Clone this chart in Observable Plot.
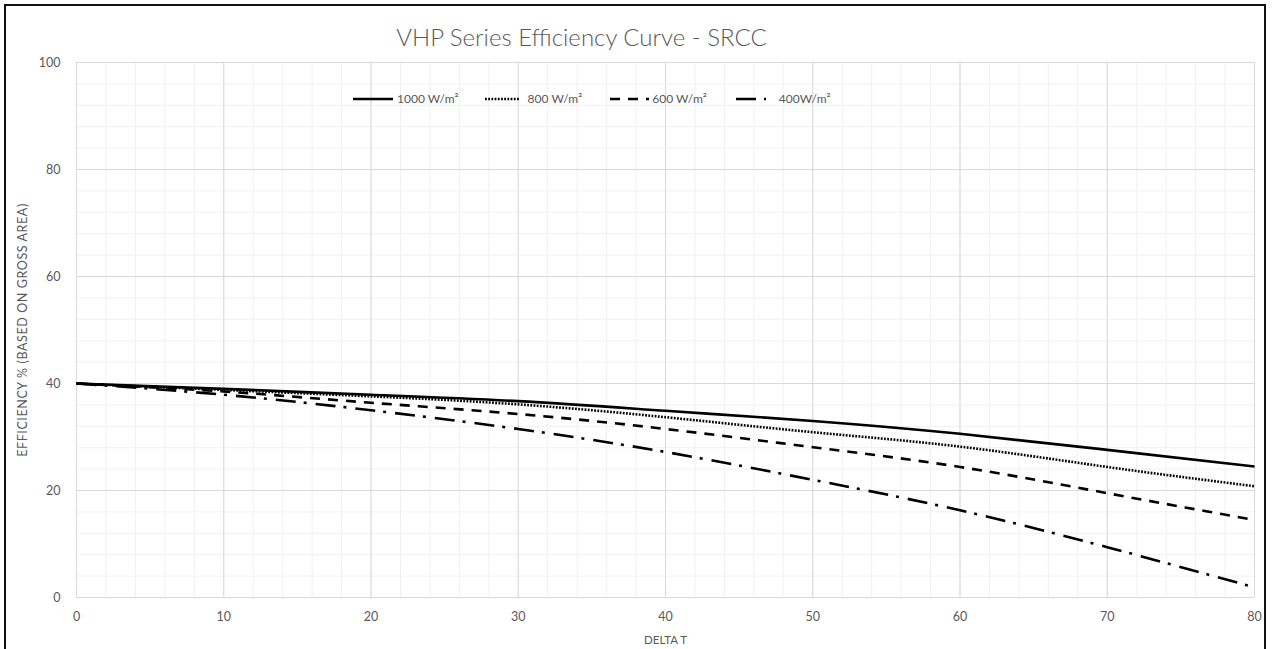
<!DOCTYPE html>
<html>
<head>
<meta charset="utf-8">
<script src="https://cdn.jsdelivr.net/npm/d3@7"></script>
<script src="https://cdn.jsdelivr.net/npm/@observablehq/plot@0.6"></script>
<style>
  html, body { margin: 0; padding: 0; background: #fff; }
  #wrap { position: relative; width: 1273px; height: 649px; overflow: hidden; font-family: Lato, "Open Sans", sans-serif; }
  #frame { position: absolute; left: 4px; top: 4px; width: 1262px; height: 700px; border: 2px solid #111; box-sizing: border-box; pointer-events: none; }
  #title { position: absolute; top: 25px; left: 0; width: 1163px; text-align: center; font-size: 24px; color: #595959; line-height: 1; font-weight: 300; }
  #legend { position: absolute; top: 91px; left: 353px; display: flex; align-items: center; font-size: 12px; color: #595959; }
  #legend .item { display: flex; align-items: center; }
  #legend svg { display: block; }
  #chart { position: absolute; left: 0; top: 0; }
</style>
</head>
<body>
<div id="wrap">
  <div id="chart"></div>
  <div id="title">VHP Series Efficiency Curve - SRCC</div>
  <div id="legend"></div>
  <div id="frame"></div>
</div>
<script>
// ---- Data ----
const deltaT   = [0, 10, 20, 30, 40, 50, 60, 70, 80];
const eff1000  = [40, 39.0, 37.9, 36.7, 34.9, 33.0, 30.6, 27.6, 24.5];
const eff800   = [40, 38.8, 37.6, 36.1, 33.7, 30.9, 28.2, 24.4, 20.8];
const eff600   = [40, 38.5, 36.4, 34.3, 31.5, 28.1, 24.4, 19.5, 14.5];
const eff400   = [40, 37.9, 35.0, 31.5, 27.2, 22.0, 16.3, 9.4, 1.9];
const seriesNames = ["1000 W/m²", "800 W/m²", "600 W/m²", "400W/m²"];
const xTicks = [0, 10, 20, 30, 40, 50, 60, 70, 80];
const yTicks = [0, 20, 40, 60, 80, 100];
const xMinor = d3.range(0, 81, 2);
const yMinor = d3.range(0, 101, 4);

// ---- Styles ----
const dashes = [null, "1.8,1.4", "10,8", "20,8,3,9"];
const seriesValues = [eff1000, eff800, eff600, eff400];
const gray = "#595959";

const rows = seriesNames.map((name, i) => deltaT.map((t, j) => ({t, eff: seriesValues[i][j], name})));

const lineMarks = rows.map((data, i) => Plot.line(data, {
  x: "t", y: "eff", curve: "natural",
  stroke: "#000", strokeWidth: 2.6,
  strokeDasharray: dashes[i] || undefined,
  strokeLinecap: "butt"
}));

const plot = Plot.plot({
  width: 1273, height: 649,
  marginLeft: 76, marginRight: 19, marginTop: 62, marginBottom: 52,
  style: {fontFamily: "Lato, 'Open Sans', sans-serif", fontSize: "12.5px", color: gray, background: "transparent"},
  x: {domain: [0, 80]},
  y: {domain: [0, 100]},
  marks: [
    Plot.ruleX(xMinor, {stroke: "#f0f0f0", strokeWidth: 1}),
    Plot.ruleY(yMinor, {stroke: "#f0f0f0", strokeWidth: 1}),
    Plot.ruleX(xTicks, {stroke: "#d9d9d9", strokeWidth: 1}),
    Plot.ruleY(yTicks, {stroke: "#d9d9d9", strokeWidth: 1}),
    Plot.axisX({ticks: xTicks, tickSize: 0, tickPadding: 15, fill: gray,
      label: "DELTA T", labelAnchor: "center", labelArrow: "none", labelOffset: 46}),
    Plot.axisY({ticks: yTicks, tickSize: 0, tickPadding: 16, fill: gray,
      label: "EFFICIENCY % (BASED ON GROSS AREA)", labelAnchor: "center", labelArrow: "none", labelOffset: 58}),
    ...lineMarks
  ]
});
document.getElementById("chart").appendChild(plot);
// axis label sizes
const axisLabels = plot.querySelectorAll("g[aria-label$='axis label'] text");
axisLabels.forEach(t => {
  const isY = t.closest("g").getAttribute("aria-label").startsWith("y");
  t.style.fontSize = isY ? "12.5px" : "11.5px";
  if (isY) t.style.letterSpacing = "0.6px";
});

// ---- Legend ----
const legend = document.getElementById("legend");
const sampleW = [40, 34, 39, 30];
const labelGap = [4, 9, 3, 13];
const afterGap = [26, 28, 29, 0];
seriesNames.forEach((name, i) => {
  const item = document.createElement("div");
  item.className = "item";
  item.style.marginRight = afterGap[i] + "px";
  const ns = "http://www.w3.org/2000/svg";
  const svg = document.createElementNS(ns, "svg");
  svg.setAttribute("width", sampleW[i]);
  svg.setAttribute("height", 10);
  svg.style.marginRight = labelGap[i] + "px";
  const ln = document.createElementNS(ns, "line");
  ln.setAttribute("x1", 0); ln.setAttribute("x2", sampleW[i]);
  ln.setAttribute("y1", 5); ln.setAttribute("y2", 5);
  ln.setAttribute("stroke", "#000"); ln.setAttribute("stroke-width", 2.6);
  if (dashes[i]) ln.setAttribute("stroke-dasharray", dashes[i]);
  svg.appendChild(ln);
  const label = document.createElement("span");
  label.textContent = name;
  item.appendChild(svg); item.appendChild(label);
  legend.appendChild(item);
});
</script>
</body>
</html>
